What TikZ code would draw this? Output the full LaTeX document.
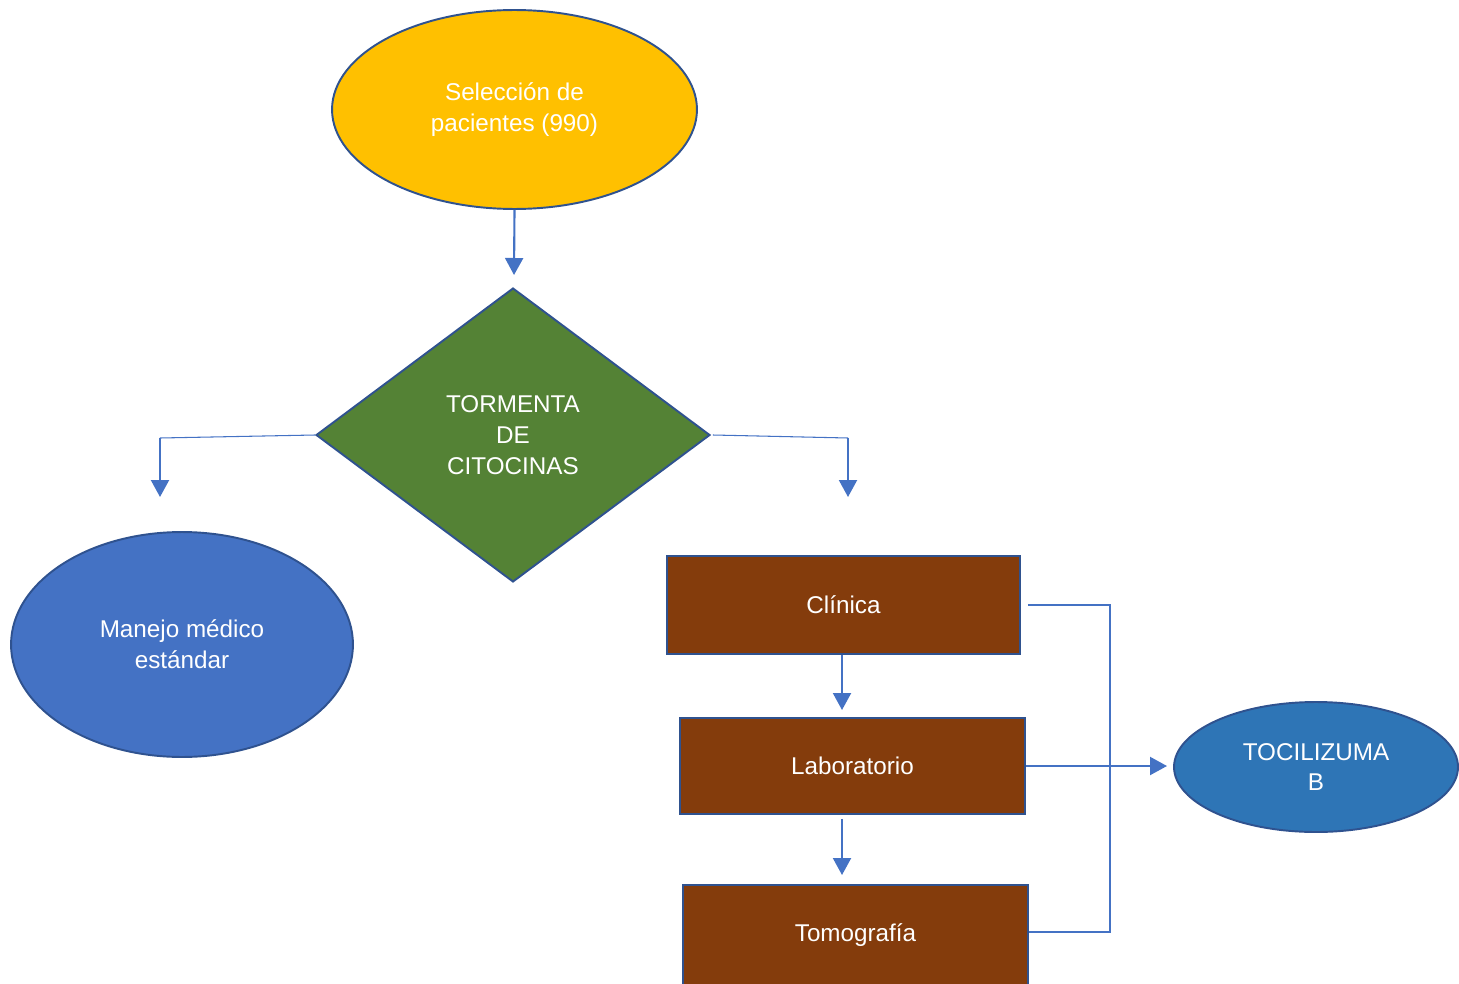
\documentclass[tikz,border=0pt]{standalone}
\usepackage{fontspec}
\setmainfont{Liberation Sans}
\usepackage{tikz}
\usetikzlibrary{shapes,arrows.meta,calc}
\definecolor{amarillo}{HTML}{FFC000}
\definecolor{verde}{HTML}{548235}
\definecolor{azul}{HTML}{4472C4}
\definecolor{azulb}{HTML}{2E75B6}
\definecolor{cafe}{HTML}{843C0C}
\definecolor{borde}{HTML}{2F528F}
\begin{document}
\begin{tikzpicture}[x=0.02cm,y=-0.02cm,
  caja/.style={draw=borde, line width=1.1pt, text=white, align=center, inner sep=0pt,
    font=\fontsize{13.8}{17.5}\selectfont},
  elip/.style={caja, ellipse},
  rect/.style={caja, rectangle},
  flecha/.style={draw=azul, line width=1.2pt, -{Triangle[length=0.34cm,width=0.36cm]}},
  linea/.style={draw=azul, line width=0.6pt}]
\useasboundingbox (0,0) rectangle (1459,983);
\clip (0,0) rectangle (1459,983);
\node (S) at (514.5,109.5) [elip, fill=amarillo, minimum width=7.3cm, minimum height=3.98cm] {Selección de\\pacientes (990)};
\node (T) at (513,435) [caja, diamond, aspect=1.34, fill=verde, minimum width=7.88cm, minimum height=5.88cm] {TORMENTA\\DE\\CITOCINAS};
\node (M) at (182,644.5) [elip, fill=azul, minimum width=6.84cm, minimum height=4.5cm] {Manejo médico\\estándar};
\node (C) at (843.5,605) [rect, fill=cafe, minimum width=7.06cm, minimum height=1.96cm] {Clínica};
\node (L) at (852.5,766) [rect, fill=cafe, minimum width=6.9cm, minimum height=1.92cm] {Laboratorio};
\node (Tm) at (855.5,935) [rect, fill=cafe, minimum width=6.9cm, minimum height=2cm] {Tomografía};
\node (Tc) at (1316,767) [elip, fill=azulb, minimum width=5.68cm, minimum height=2.6cm] {TOCILIZUMA\\B};
% conectores
\coordinate (a1) at (514,275);
\coordinate (a2) at (160,438);
\coordinate (a3) at (160,497);
\coordinate (a4) at (848,438);
\coordinate (a5) at (848,497);
\coordinate (a6) at (842,710);
\coordinate (a7) at (842,875);
\coordinate (a8) at (1167,767);
\coordinate (b1) at (1110,605);
\coordinate (b2) at (1110,932);
\draw[flecha] (S.south) -- (a1);
\draw[linea] (T.west) -- (a2);
\draw[flecha] (a2) -- (a3);
\draw[linea] ($(T.east)+(2,0)$) -- (a4);
\draw[flecha] (a4) -- (a5);
\draw[flecha] (C.south -| a6) -- (a6);
\draw[flecha] ($(L.south -| a7)+(0,4)$) -- (a7);
\draw[flecha] (L.east) -- (L.east -| a8);
\draw[linea] ($(C.east)+(7,0)$) -- (b1) -- (b2) -- (Tm.east |- b2);
\end{tikzpicture}
\end{document}
